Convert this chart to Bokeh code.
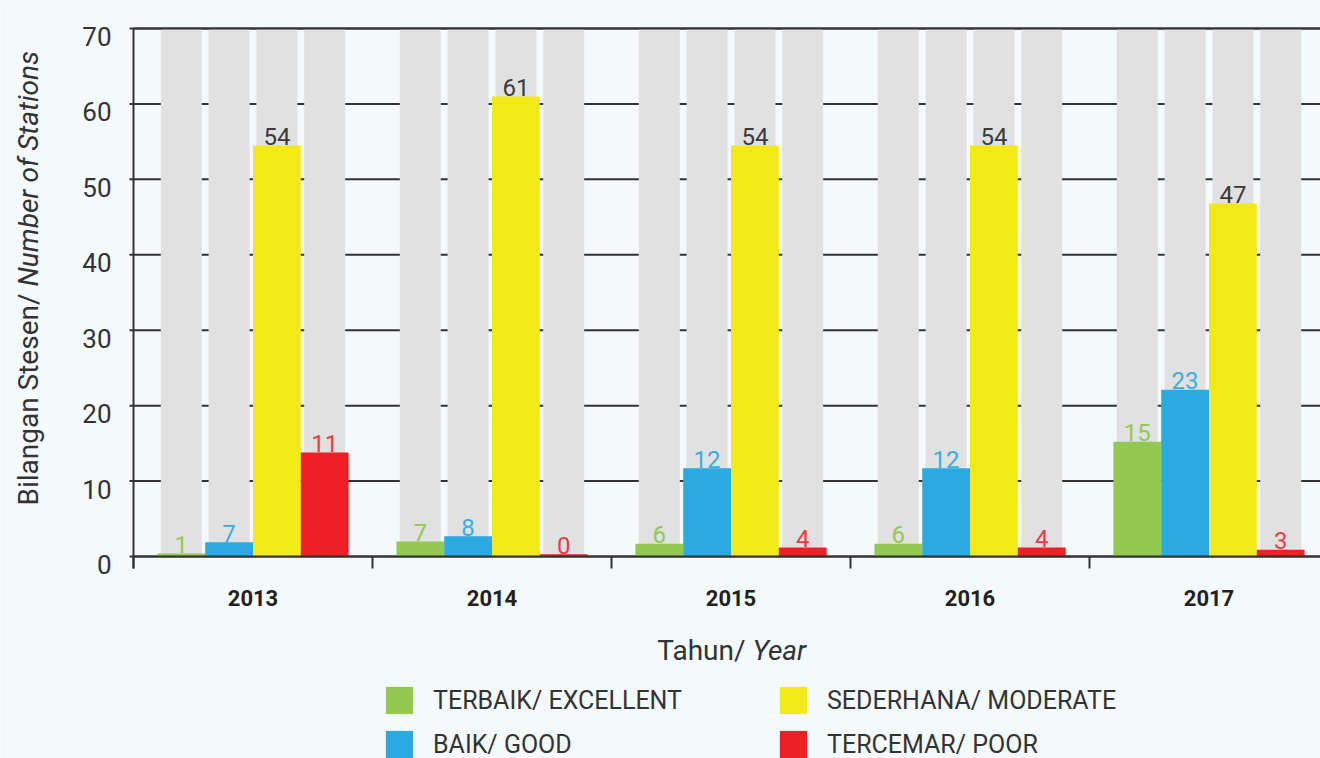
from bokeh.plotting import figure
from bokeh.models import ColumnDataSource, Range1d, Legend, LegendItem
from bokeh.core.properties import value
from bokeh.embed import file_html
from bokeh.resources import INLINE
import math

# ---- data ----
years = ["2013", "2014", "2015", "2016", "2017"]
series_names = ["TERBAIK/ EXCELLENT", "BAIK/ GOOD", "SEDERHANA/ MODERATE", "TERCEMAR/ POOR"]
# bar heights as drawn
excellent_h = [0.4, 2.0, 1.7, 1.7, 15.2]
good_h = [1.9, 2.7, 11.7, 11.7, 22.1]
moderate_h = [54.5, 61.0, 54.5, 54.5, 46.8]
poor_h = [13.8, 0.3, 1.2, 1.2, 0.9]
# printed value labels
excellent_lbl = ["1", "7", "6", "6", "15"]
good_lbl = ["7", "8", "12", "12", "23"]
moderate_lbl = ["54", "61", "54", "54", "47"]
poor_lbl = ["11", "0", "4", "4", "3"]
y_ticks = [0, 10, 20, 30, 40, 50, 60, 70]
y_tick_labels = ["0", "10", "20", "30", "40", "50", "60", "70"]
y_max = 70

# ---- styles ----
BG = "#f4f9fc"
DARK = "#333333"
bar_colors = ["#93c853", "#29abe2", "#f2ea17", "#ee1f25"]
label_colors = ["#93c853", "#3aaee2", "#3a3a3a", "#ee3a40"]
GREY = "#e1e1e1"
FONT = "Roboto"

# ---- layout helpers (pixel layout -> data units) ----
U = 528 / 70.0          # px per unit on value axis
X0, CW, Y0 = 133, 239, 556


def sx(px):
    return -0.5 + (px - X0) / CW


def sy(py):
    return (Y0 - py) / U


p = figure(width=1320, height=758, output_backend="svg", toolbar_location=None,
           x_range=Range1d(sx(0), sx(1320)), y_range=Range1d(sy(758), sy(0)),
           x_axis_location=None, y_axis_location=None, min_border=0)
p.background_fill_color = BG
p.border_fill_color = BG
p.outline_line_color = None
p.grid.visible = False

n = len(years)
# horizontal grid lines (behind the grey columns)
p.segment(x0=sx(133), x1=sx(1320), y0=y_ticks, y1=y_ticks, line_color=DARK, line_width=2)

offsets = [-0.3, -0.1, 0.1, 0.3]
heights = [excellent_h, good_h, moderate_h, poor_h]
labels = [excellent_lbl, good_lbl, moderate_lbl, poor_lbl]

# grey background columns
gx, gtop = [], []
for off in offsets:
    for i in range(n):
        gx.append(i + off)
        gtop.append(y_max)
p.vbar(x=gx, top=gtop, bottom=0, width=41 / CW, fill_color=GREY, line_color=None)

renderers = []
sources = []
for k in range(4):
    src = ColumnDataSource(dict(x=[i + offsets[k] for i in range(n)],
                                top=heights[k], label=labels[k]))
    r = p.vbar(x="x", top="top", bottom=0, width=0.2, source=src,
               fill_color=bar_colors[k], line_color=None)
    renderers.append(r)
    sources.append(src)

# axis lines
p.segment(x0=sx(133), x1=sx(1320), y0=0, y1=0, line_color=DARK, line_width=2)
p.segment(x0=sx(133), x1=sx(1320), y0=y_max, y1=y_max, line_color=DARK, line_width=2)
p.segment(x0=sx(133), x1=sx(133), y0=sy(568), y1=y_max, line_color=DARK, line_width=2)
# y ticks + labels
p.segment(x0=sx(129), x1=sx(133), y0=y_ticks, y1=y_ticks, line_color=DARK, line_width=2)
p.text(x=sx(111), y=y_ticks, text=y_tick_labels, text_align="right",
       text_baseline="alphabetic", y_offset=8, text_font=value(FONT),
       text_font_size="26px", text_color=DARK)
# x category boundary ticks
bx = [i - 0.5 for i in range(n)]
p.segment(x0=bx, x1=bx, y0=0, y1=sy(568), line_color=DARK, line_width=2)
# year labels
p.text(x=list(range(n)), y=sy(597), text=years, text_align="center",
       text_baseline="alphabetic", text_font=value(FONT), text_font_style="bold",
       text_font_size="22px", text_color="#231f20")

# value labels
for k in range(4):
    p.text(x="x", y="top", text="label", source=sources[k], text_align="center",
           text_baseline="alphabetic", y_offset=-9,
           text_font=value(FONT), text_font_size="24px",
           text_color=label_colors[k])

# axis titles (mixed upright / italic)
p.text(x=[sx(28)], y=[sy(293)], text=["Bilangan Stesen/"], angle=math.pi / 2,
       text_align="right", text_baseline="alphabetic", text_font=value(FONT),
       text_font_size="28px", text_color=DARK)
p.text(x=[sx(28)], y=[sy(286)], text=["Number of Stations"], angle=math.pi / 2,
       text_align="left", text_baseline="alphabetic", text_font=value(FONT),
       text_font_size="28px", text_font_style="italic", text_color=DARK)
p.text(x=[sx(745)], y=[sy(650)], text=["Tahun/"], text_align="right",
       text_baseline="alphabetic", text_font=value(FONT), text_font_size="28px",
       text_color=DARK)
p.text(x=[sx(752)], y=[sy(650)], text=["Year"], text_align="left",
       text_baseline="alphabetic", text_font=value(FONT), text_font_size="28px",
       text_font_style="italic", text_color=DARK)


# legend: two columns
def make_legend(idx, loc):
    return Legend(items=[LegendItem(label=series_names[j], renderers=[renderers[j]]) for j in idx],
                  location=loc, orientation="vertical", glyph_width=34, glyph_height=34,
                  label_standoff=17, spacing=10, padding=0, margin=0,
                  border_line_color=None, background_fill_alpha=0,
                  label_text_font=FONT, label_text_font_size="25px",
                  label_text_color=DARK, label_height=34)


p.add_layout(make_legend([0, 1], (382, -3)))
p.add_layout(make_legend([2, 3], (776, -3)))

open("out.html", "w").write(file_html(p, INLINE))
